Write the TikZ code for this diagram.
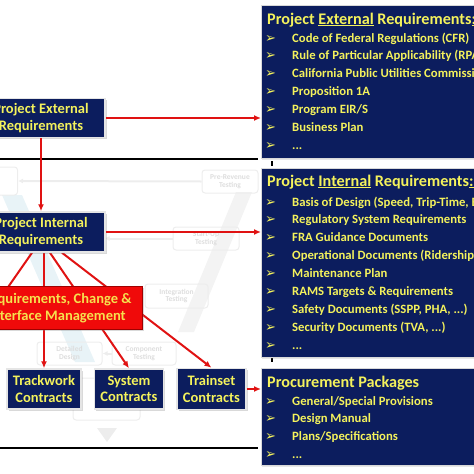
\documentclass[tikz,border=0pt]{standalone}
\usepackage{fontspec}
\setmainfont{Carlito}
\newfontfamily\symfont{DejaVu Sans}
\usetikzlibrary{positioning,backgrounds,shadows,arrows.meta,calc}

\begin{document}
\begin{tikzpicture}[x=1pt,y=-1pt]

      \definecolor{navy}{HTML}{0C1D5E}
      \definecolor{textyellow}{HTML}{F4F25C}
      \definecolor{boxred}{HTML}{F00A0A}
      \definecolor{darkred}{HTML}{A00000}
      \definecolor{arrowred}{HTML}{E01212}
      \definecolor{faint}{HTML}{EDEDED}
      \definecolor{fainttext}{HTML}{DDDDDD}
      \definecolor{faintblue}{HTML}{E8F3F7}

      \tikzstyle{block}     = [rectangle, draw=white!80!gray, line width=1.5pt, fill=navy, text=textyellow, align=center, font=\fontsize{14.5}{16.5}\selectfont\bfseries, drop shadow={opacity=0.3, shadow xshift=1.5pt, shadow yshift=-1.5pt}]
      \tikzstyle{redblock}  = [block, draw=darkred, line width=0.6pt, fill=boxred, text=textyellow!85!orange]
      \tikzstyle{panel}     = [rectangle, draw=white!70!gray, line width=0.8pt, fill=navy, anchor=north west, minimum width=230pt, drop shadow={opacity=0.2, shadow xshift=1pt, shadow yshift=-1.5pt}]
      \tikzstyle{paneltext} = [anchor=base west, inner sep=0pt, text=textyellow]
      \tikzstyle{faintbox}  = [rectangle, rounded corners=3pt, draw=faint, line width=1pt, text=fainttext, align=center, font=\fontsize{7.5}{7.5}\selectfont\bfseries]

      \tikzstyle{connector} = [line width=2pt, draw=arrowred, -{Latex[length=7pt,width=6pt]}]
      \tikzstyle{fanline}   = [line width=2pt, draw=arrowred]
      \tikzstyle{faintline} = [line width=2pt, draw=faint, -{Latex[length=5pt,width=5pt]}]

      \newcommand{\contractsep}[0]{12pt}
      \newcommand{\paneltitle}[1]{\fontsize{16.2}{18}\selectfont\bfseries #1}
      \newcommand{\panellist}[1]{\fontsize{12.7}{17.9}\selectfont\bfseries\begin{tabular}[t]{@{}p{27pt}@{}l@{}}#1\end{tabular}}
      \newcommand{\itm}[0]{{\symfont\fontsize{13}{13}\selectfont ➢} &}

      \useasboundingbox (0,0) rectangle (474,474);

      % faded V-model in the back
      \begin{scope}[on background layer]
        \fill [faintblue] (2,195) -- (22,195) -- (95,362) -- (75,362) -- cycle;
        \fill [faint!70]  (178,332) -- (194,332) -- (252,192) -- (236,192) -- cycle;
        \node [faintbox, minimum width=27pt, minimum height=28pt] (leftbox)   at (4,181)     {};
        \node [faintbox, minimum width=56pt, minimum height=23pt] (prerev)    at (230,181.5) {Pre-Revenue\\Testing};
        \node [faintbox, minimum width=66pt, minimum height=23pt] (startup)   at (206,238.5) {Start-Up\\Testing};
        \node [faintbox, minimum width=63pt, minimum height=24pt] (integ)     at (176.5,296) {Integration\\Testing};
        \node [faintbox, minimum width=65pt, minimum height=23pt] (detdesign) at (69.5,353.5) {Detailed\\Design};
        \node [faintbox, minimum width=64pt, minimum height=23pt] (comptest)  at (144,353.5)  {Component\\Testing};
        \node [faintbox, minimum width=67pt, minimum height=42pt] (lowbox)    at (106.5,399) {};
        \fill [faint] (97,428) -- (117,428) -- (107,442) -- cycle;
        \draw [faintline] (prerev.west)   -- (leftbox.east);
        \draw [faintline] (startup.west)  -- ++(-68,0);
        \draw [faintline] (comptest.west) -- (detdesign.east);
      \end{scope}

      \draw [line width=2pt]   (0,159) -- (258,159);
      \draw [line width=2pt]   (0,448) -- (258,448);
      \draw [line width=1.2pt] (272,161) -- (272,166);
      \draw [line width=1.2pt] (272,357) -- (272,362);

      \node [block, minimum width=128pt, minimum height=39pt]     (external)  at (41,118)  {Project External\\Requirements};
      \node [block, minimum width=128pt, minimum height=40pt]     (internal)  at (41,232)  {Project Internal\\Requirements};
      \node [redblock, minimum width=170pt, minimum height=43pt]  (changemgmt) at (57,308) {Requirements, Change \&\\Interface Management};
      \node [block, minimum width=74pt, minimum height=40pt]      (trackwork) at (44,389)  {Trackwork\\Contracts};
      \node [block, minimum width=69pt, minimum height=40pt, right = \contractsep of trackwork] (system)   {System\\Contracts};
      \node [block, minimum width=69pt, minimum height=41pt, right = \contractsep of system]    (trainset) {Trainset\\Contracts};

      \node [panel, minimum height=153pt] (extpanel)  at (261,5)   {};
      \node [panel, minimum height=189pt] (intpanel)  at (261,168) {};
      \node [panel, minimum height=97pt]  (procpanel) at (261,368) {};

      \node [paneltext] (exttitle) at (267,24) {\paneltitle{Project \underline{External} Requirements\underline{:}}};
      \node [paneltext] (extlist)  at (265,42) {\panellist{
          \itm Code of Federal Regulations (CFR)\\
          \itm Rule of Particular Applicability (RPA\\
          \itm California Public Utilities Commissi\\
          \itm Proposition 1A\\
          \itm Program EIR/S\\
          \itm Business Plan\\
          \itm ...}};

      \node [paneltext] (inttitle) at (267,186) {\paneltitle{Project \underline{Internal} Requirements\underline{:}}};
      \node [paneltext] (intlist)  at (265,206) {\panellist{
          \itm Basis of Design (Speed, Trip-Time, E\\
          \itm Regulatory System Requirements\\
          \itm FRA Guidance Documents\\
          \itm Operational Documents (Ridership,\\
          \itm Maintenance Plan\\
          \itm RAMS Targets \& Requirements\\
          \itm Safety Documents (SSPP, PHA, ...)\\
          \itm Security Documents (TVA, ...)\\
          \itm ...}};

      \node [paneltext] (proctitle) at (267,387) {\paneltitle{Procurement Packages}};
      \node [paneltext] (proclist)  at (265,405) {\panellist{
          \itm General/Special Provisions\\
          \itm Design Manual\\
          \itm Plans/Specifications\\
          \itm ...}};

      \coordinate (offleft) at (-49,369);

      \draw [connector] (external)  -- (external -| extpanel.west);
      \draw [connector] (external)  -- (internal);
      \draw [connector] (internal)  -- (internal -| intpanel.west);
      \draw [connector] (trainset)  -- (trainset -| procpanel.west);

      \begin{scope}[on background layer]
        \draw [fanline]   ([xshift=-9pt]internal.south)    -- (offleft);
        \draw [connector] (internal.south -| trackwork.north) -- (trackwork.north);
        \draw [connector] ([xshift=9pt]internal.south)     -- (system.north);
        \draw [connector] ([xshift=21pt]internal.south)    -- (trainset.north);
      \end{scope}

\end{tikzpicture}
\end{document}
